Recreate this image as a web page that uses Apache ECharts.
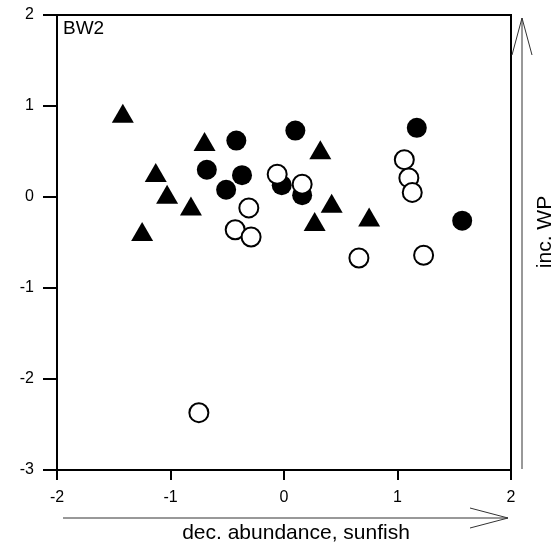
<!DOCTYPE html>
<html>
<head>
<meta charset="utf-8">
<script src="https://cdn.jsdelivr.net/npm/echarts@6/dist/echarts.min.js"></script>
<style>html,body{margin:0;padding:0;background:#fff}#c{width:558px;height:549px}</style>
</head>
<body>
<div id="c"></div>
<script>
// Data
const xTicks = [-2, -1, 0, 1, 2];
const yTicks = [-3, -2, -1, 0, 1, 2];
const panelLabel = 'BW2';
const xTitle = 'dec. abundance, sunfish';
const yTitle = 'inc. WP';

const triangles = [
  [-1.42, 0.92], [-0.70, 0.61], [-1.13, 0.27], [-1.03, 0.03], [-0.82, -0.10],
  [-1.25, -0.38], [0.32, 0.52], [0.42, -0.07], [0.27, -0.27], [0.75, -0.22]
];
const filledCircles = [
  [-0.42, 0.62], [-0.68, 0.30], [-0.37, 0.24], [-0.51, 0.08], [-0.02, 0.13],
  [0.10, 0.73], [0.16, 0.02], [1.17, 0.76], [1.57, -0.26]
];
const openCircles = [
  [-0.31, -0.12], [-0.43, -0.36], [-0.29, -0.44], [-0.06, 0.25], [0.16, 0.14],
  [1.06, 0.41], [1.10, 0.21], [1.13, 0.05], [0.66, -0.67], [1.23, -0.64],
  [-0.75, -2.37]
];

const FONT = "'Liberation Sans', Arial, sans-serif";
const chart = echarts.init(document.getElementById('c'), null, {renderer: 'canvas'});
chart.setOption({
  animation: false,
  backgroundColor: '#fff',
  grid: {left: 57, right: 47, top: 15, bottom: 79, show: true, borderColor: '#000', borderWidth: 2, backgroundColor: 'transparent'},
  xAxis: {
    type: 'value', min: xTicks[0], max: xTicks[xTicks.length - 1], interval: 1,
    splitLine: {show: false},
    axisLine: {show: true, onZero: false, lineStyle: {color: '#000', width: 2}},
    axisTick: {show: true, inside: false, length: 10, lineStyle: {color: '#000', width: 2}},
    axisLabel: {color: '#000', fontSize: 16, fontFamily: FONT, margin: 20}
  },
  yAxis: {
    type: 'value', min: yTicks[0], max: yTicks[yTicks.length - 1], interval: 1,
    splitLine: {show: false},
    axisLine: {show: true, onZero: false, lineStyle: {color: '#000', width: 2}},
    axisTick: {show: true, inside: false, length: 14, lineStyle: {color: '#000', width: 2}},
    axisLabel: {color: '#000', fontSize: 16, fontFamily: FONT, margin: 23}
  },
  graphic: [
    {type: 'text', left: 63, top: 19, style: {text: panelLabel, fontSize: 19, fontFamily: FONT, fill: '#000'}},
    // bottom arrow
    {type: 'polyline', shape: {points: [[63, 518], [508, 518]]}, style: {stroke: '#333', lineWidth: 1}},
    {type: 'polyline', shape: {points: [[470, 508], [508, 518], [470, 528]]}, style: {stroke: '#333', lineWidth: 1, fill: null}},
    {type: 'text', x: 296, y: 533, style: {text: xTitle, fontSize: 21, fontFamily: FONT, fill: '#000', align: 'center', verticalAlign: 'middle'}},
    // right arrow
    {type: 'polyline', shape: {points: [[522, 469], [522, 18]]}, style: {stroke: '#333', lineWidth: 1}},
    {type: 'polyline', shape: {points: [[512, 55], [522, 18], [532, 55]]}, style: {stroke: '#333', lineWidth: 1, fill: null}},
    {type: 'text', x: 545, y: 232, rotation: Math.PI / 2, style: {text: yTitle, fontSize: 21, fontFamily: FONT, fill: '#000', align: 'center', verticalAlign: 'middle'}}
  ],
  series: [
    {type: 'scatter', data: triangles, symbol: 'triangle', symbolSize: [22, 19], itemStyle: {color: '#000', opacity: 1}},
    {type: 'scatter', data: filledCircles, symbol: 'circle', symbolSize: 20, itemStyle: {color: '#000', opacity: 1}},
    {type: 'scatter', data: openCircles, symbol: 'circle', symbolSize: 19, itemStyle: {color: '#fff', borderColor: '#000', borderWidth: 2, opacity: 1}}
  ]
});
</script>
</body>
</html>
